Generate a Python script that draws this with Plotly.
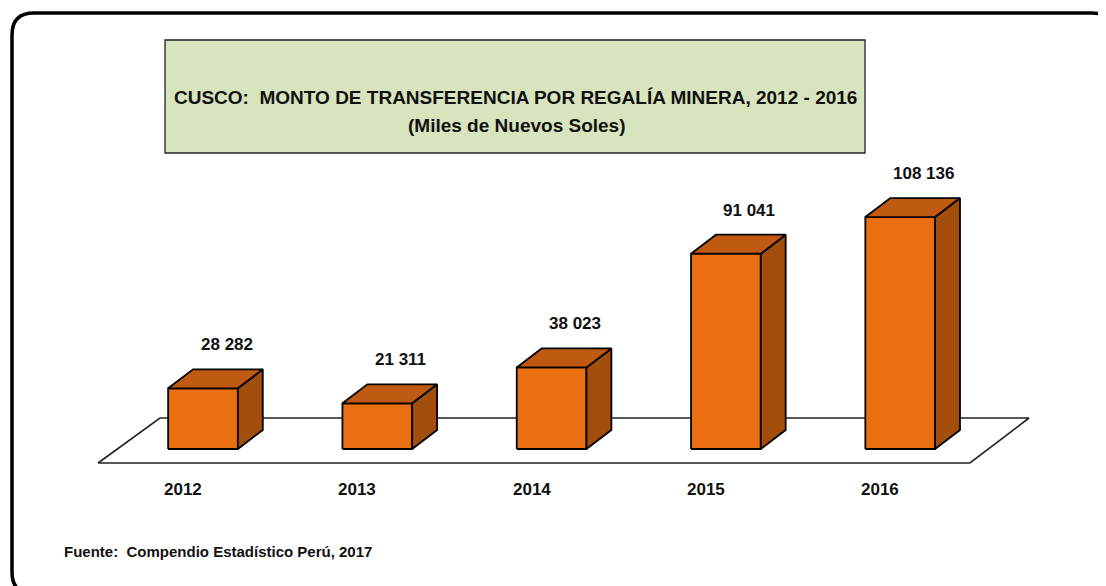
import plotly.graph_objects as go

# Data
years = ['2012', '2013', '2014', '2015', '2016']
montos = [28282, 21311, 38023, 91041, 108136]
etiquetas = ['28 282', '21 311', '38 023', '91 041', '108 136']

title_line1 = 'CUSCO:  MONTO DE TRANSFERENCIA POR REGALÍA MINERA, 2012 - 2016'
title_line2 = '(Miles de Nuevos Soles)'
fuente = 'Fuente:  Compendio Estadístico Perú, 2017'

# the page body has an 8px margin, so the figure is a bit smaller than the window
OFF = 8
W, H = 1106 - OFF, 586 - OFF
FONT = 'Liberation Sans, Arial, sans-serif'

# colours of the box faces
c_front = '#e96f10'
c_side = '#a34e0b'
c_top = '#c05a12'

# 3d box geometry (axis units)
hw = 0.20      # half width of the front face
dx = 0.143     # depth, x
dy = 8860      # depth, y

# pixel scale of the axes
x0_px, x_step = 203, 174.3
y0_px, y_scale = 449, 2.145 / 1000


def px(xp):
    return (xp - OFF) / W


def py(yp):
    return 1 - (yp - OFF) / H


xs = list(range(len(years)))

front_x, front_y, side_x, side_y, top_x, top_y = [], [], [], [], [], []
for i, v in zip(xs, montos):
    front_x += [i - hw, i + hw, i + hw, i - hw, i - hw, None]
    front_y += [0, 0, v, v, 0, None]
    side_x += [i + hw, i + hw + dx, i + hw + dx, i + hw, i + hw, None]
    side_y += [0, dy, v + dy, v, 0, None]
    top_x += [i - hw, i + hw, i + hw + dx, i - hw + dx, i - hw, None]
    top_y += [v, v, v + dy, v + dy, v, None]

fig = go.Figure()

# floor
fig.add_trace(go.Scatter(
    x=[-0.602, 4.40, 4.739, -0.247, -0.602],
    y=[-6530, -6530, 14450, 14450, -6530],
    mode='lines', fill='toself', fillcolor='white',
    line=dict(color='#222222', width=1.6), hoverinfo='skip'
))

for fx, fy, col in [(front_x, front_y, c_front), (side_x, side_y, c_side), (top_x, top_y, c_top)]:
    fig.add_trace(go.Scatter(
        x=fx, y=fy, mode='lines', fill='toself', fillcolor=col,
        line=dict(color='black', width=1.8), hoverinfo='skip'
    ))

annotations = []
for i, v, lab in zip(xs, montos, etiquetas):
    annotations.append(dict(
        x=i + 0.135, y=v + dy, xref='x', yref='y', text='<b>' + lab + '</b>',
        showarrow=False, yanchor='bottom', yshift=13,
        font=dict(family=FONT, size=17, color='#111111')
    ))
for i, yr in zip(xs, years):
    annotations.append(dict(
        x=i - 0.115, y=-18650, xref='x', yref='y', text='<b>' + yr + '</b>',
        showarrow=False, yanchor='middle',
        font=dict(family=FONT, size=17, color='#111111')
    ))

annotations.append(dict(
    x=px(515), y=py(85), xref='paper', yref='paper', text='<b>' + title_line1 + '</b>',
    showarrow=False, font=dict(family=FONT, size=19, color='#111111')
))
annotations.append(dict(
    x=px(517), y=py(113), xref='paper', yref='paper', text='<b>' + title_line2 + '</b>',
    showarrow=False, font=dict(family=FONT, size=19, color='#111111')
))
annotations.append(dict(
    x=px(62), y=py(562), xref='paper', yref='paper', text='<b>' + fuente + '</b>',
    showarrow=False, xanchor='left', font=dict(family=FONT, size=15, color='#111111')
))

# outer rounded frame
r = 22
L, T, R, B = 12, 13, 1114, 594
frame = (f'M {px(L)},{py(T + r)} Q {px(L)},{py(T)} {px(L + r)},{py(T)} '
         f'L {px(R - r)},{py(T)} Q {px(R)},{py(T)} {px(R)},{py(T + r)} '
         f'L {px(R)},{py(B - r)} Q {px(R)},{py(B)} {px(R - r)},{py(B)} '
         f'L {px(L + r)},{py(B)} Q {px(L)},{py(B)} {px(L)},{py(B - r)} Z')

shapes = [
    dict(type='path', xref='paper', yref='paper', path=frame,
         line=dict(color='black', width=3.5), layer='above'),
    dict(type='rect', xref='paper', yref='paper', x0=px(165), x1=px(865), y0=py(153), y1=py(40),
         fillcolor='#d7e4bd', line=dict(color='#222222', width=1.3), layer='below'),
]

cx = x0_px - OFF
cy = y0_px - OFF
fig.update_layout(
    width=W, height=H,
    margin=dict(l=0, r=0, t=0, b=0),
    paper_bgcolor='white', plot_bgcolor='white',
    showlegend=False,
    xaxis=dict(visible=False, range=[-cx / x_step, (W - cx) / x_step], fixedrange=True),
    yaxis=dict(visible=False, range=[-(H - cy) / y_scale, cy / y_scale], fixedrange=True),
    annotations=annotations,
    shapes=shapes,
)

fig.write_html('out.html')
